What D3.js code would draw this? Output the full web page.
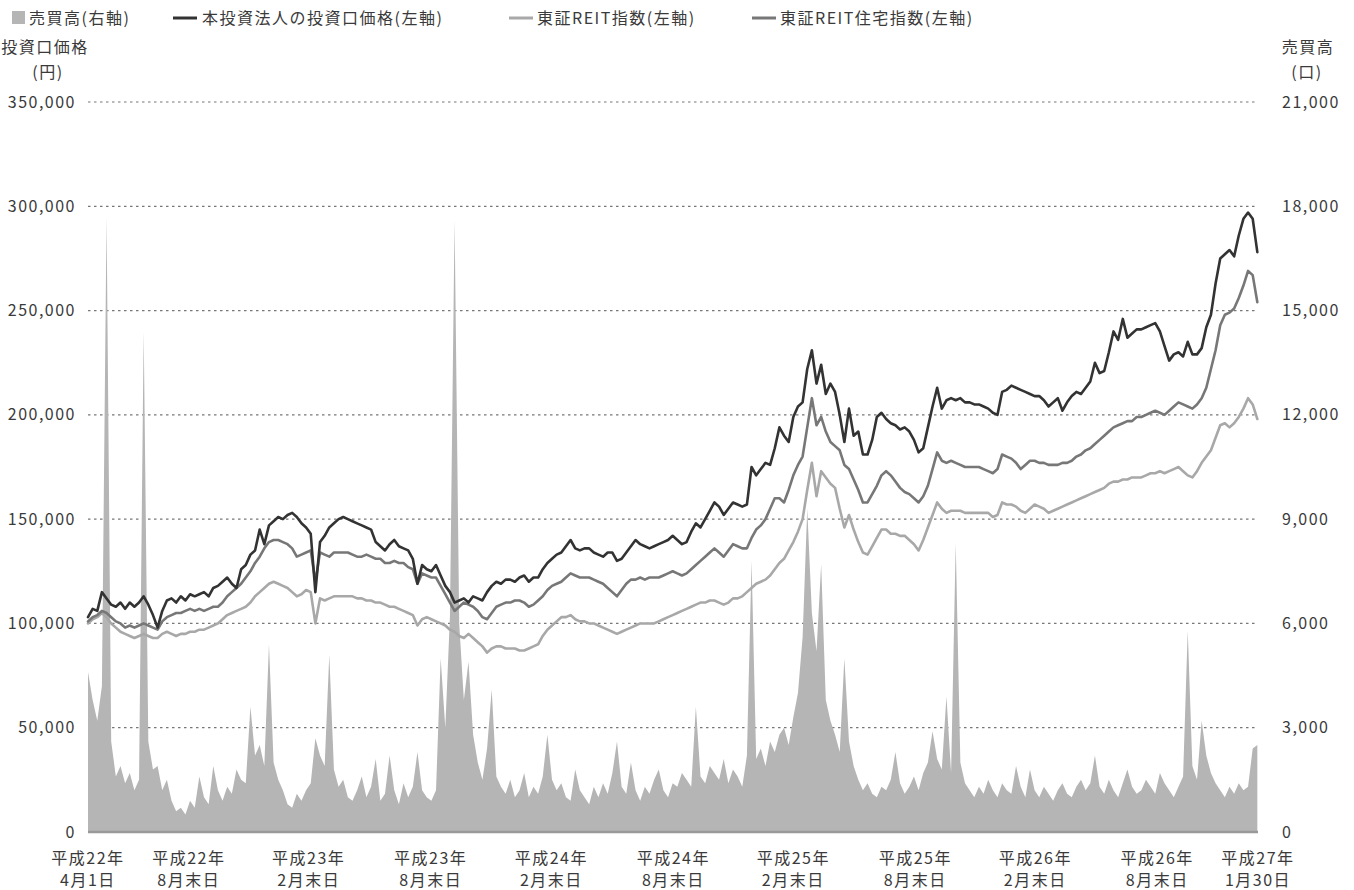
<!DOCTYPE html>
<html><head><meta charset="utf-8">
<script src="https://cdn.jsdelivr.net/npm/d3@7"></script>
<style>
body{margin:0;background:#fff}
text{font-family:"Noto Sans CJK JP","Noto Sans",sans-serif;fill:#3a3a3a;letter-spacing:1.5px}
</style>
</head><body>
<svg id="chart" width="1354" height="890"></svg>
<script>
// ---- data (weekly samples starting 2010-04-01) ----
const startDate = new Date(2010, 3, 1);
const endDate = new Date(2015, 0, 30);
const stepDays = 7;

// 本投資法人の投資口価格 (千円)
const price = [
103,107,106,115,112,109,108,110,107,110,
108,110,113,109,104,98,106,111,112,110,
113,111,114,113,114,115,113,117,118,120,
122,119,117,126,128,133,135,145,138,147,
149,151,150,152,153,151,148,146,143,115,
139,142,146,148,150,151,150,149,148,147,
146,145,139,137,135,138,140,137,136,135,
131,119,128,126,125,128,123,118,115,110,
111,112,110,113,112,111,115,118,120,119,
121,121,120,122,123,120,122,122,126,129,
131,133,134,137,140,136,135,136,136,134,
133,132,134,134,130,131,134,137,140,138,
137,136,137,138,139,140,142,140,138,139,
144,148,146,150,154,158,156,152,155,158,
157,156,157,175,171,174,177,176,184,194,
190,187,199,204,206,222,231,215,224,210,
215,211,200,187,203,190,192,181,181,188,
199,201,198,196,195,193,194,192,188,182,
184,194,204,213,203,207,208,207,208,206,
206,205,205,204,203,201,200,211,212,214,
213,212,211,210,209,209,207,204,206,208,
202,206,209,211,210,213,216,225,220,221,
230,240,236,246,237,239,241,241,242,243,
244,240,233,226,229,230,228,235,229,229,
232,242,248,263,275,277,279,276,286,294,
297,294,278];

// 東証REIT住宅指数 (千円換算)
const housing = [
101,103,104,106,105,103,101,100,98,99,
98,99,100,99,98,97,101,103,104,105,
105,106,107,106,107,106,107,108,108,110,
113,115,117,119,122,125,129,132,136,139,
140,140,139,138,136,132,133,134,135,120,
134,133,132,134,134,134,134,133,132,132,
133,132,131,131,129,129,130,129,129,127,
126,119,124,123,122,122,118,114,110,106,
108,110,109,108,106,103,102,105,108,109,
110,110,111,111,110,108,109,111,113,116,
118,119,120,122,124,123,122,122,122,121,
120,119,117,115,113,116,119,121,121,122,
121,122,122,122,123,124,125,124,123,124,
126,128,130,132,134,136,134,132,135,138,
137,136,136,141,145,147,150,155,160,160,
158,164,171,176,180,194,208,195,199,192,
187,185,183,176,174,169,164,158,158,162,
166,171,173,171,168,165,163,162,160,158,
161,166,174,182,178,177,178,177,176,175,
175,175,175,174,173,172,174,181,180,179,
177,174,176,178,178,177,177,176,176,176,
177,177,178,180,181,183,184,186,188,190,
192,194,195,196,197,197,199,199,200,201,
202,201,200,202,204,206,205,204,203,205,
208,213,222,231,243,248,249,251,256,262,
269,267,254];

// 東証REIT指数 (千円換算)
const reit = [
100,102,103,105,103,100,98,96,95,94,
93,94,95,94,93,93,95,96,95,94,
95,95,96,96,97,97,98,99,100,102,
104,105,106,107,108,110,113,115,117,119,
120,119,118,117,115,113,114,116,115,100,
112,111,112,113,113,113,113,113,112,112,
111,111,110,110,109,108,108,107,106,105,
104,99,102,103,102,101,100,99,97,96,
94,93,95,93,91,89,86,88,89,89,
88,88,88,87,87,88,89,90,94,97,
99,101,103,103,104,102,101,101,100,100,
99,98,97,96,95,96,97,98,99,100,
100,100,100,101,102,103,104,105,106,107,
108,109,110,110,111,111,110,109,110,112,
112,113,115,117,119,120,121,123,126,129,
131,135,139,144,150,164,177,161,173,170,
167,165,155,146,152,145,139,134,133,137,
141,145,145,143,143,142,142,140,138,135,
140,146,152,158,155,153,154,154,154,153,
153,153,153,153,153,151,152,158,157,157,
156,154,153,155,157,156,155,153,154,155,
156,157,158,159,160,161,162,163,164,165,
167,168,168,169,169,170,170,170,171,172,
172,173,172,173,174,175,173,171,170,173,
177,180,183,189,195,196,194,196,199,203,
208,205,198];

// 売買高 (口)
const volume = [
4600,3800,3200,4200,17700,2600,1600,1900,1400,1700,
1200,1500,14400,2600,1800,1900,1200,1500,900,600,
700,500,900,700,1600,1000,800,1900,1200,900,
1300,1100,1800,1500,1400,3600,2200,2500,1900,5400,
2000,1500,1200,800,700,1100,900,1200,1400,2700,
2200,1900,5100,1800,1300,1500,1000,900,1200,1600,
1000,1300,2100,900,1100,2200,1200,800,1400,1000,
1300,2300,1200,1000,900,1200,5000,3000,6200,17600,
6000,3800,4900,2800,2000,1500,2400,4100,1600,1300,
1100,1500,1000,1200,1700,1000,1300,1100,1600,2800,
1500,1200,1400,1000,900,1800,1200,1000,800,1300,
1000,1400,1100,1700,2600,1300,1100,2000,1200,900,
1300,1100,1500,1800,1200,1000,1400,1300,1700,1500,
1300,3600,1600,1400,1900,1700,1500,2100,1400,1800,
1600,1300,2200,7800,2100,2400,1900,2600,2300,2800,
3000,2500,3300,4000,5600,9300,6300,5200,7700,3800,
3200,2800,2300,5000,2600,1900,1500,1200,1400,1100,
1000,1300,1200,1500,2300,1400,1100,1300,1600,1200,
1700,2000,2900,2100,1800,3900,1700,8300,2000,1400,
1200,1000,1300,1100,1500,1200,1000,1400,1200,1100,
1900,1300,1000,1800,1200,1000,1300,1100,900,1200,
1400,1100,1000,1300,1500,1200,1400,2200,1300,1100,
1500,1200,1000,1400,1800,1300,1100,1200,1500,1300,
1100,1700,1400,1200,1000,1300,1600,5800,1900,1500,
3200,2200,1700,1400,1200,1000,1300,1100,1400,1200,
1300,2400,2500];

// axis ticks
const leftTicks = [0, 50, 100, 150, 200, 250, 300, 350];      // 千円
const rightTicks = [0, 3000, 6000, 9000, 12000, 15000, 18000, 21000];
const xTickDates = ["2010-04-01","2010-08-31","2011-02-28","2011-08-31","2012-02-29",
  "2012-08-31","2013-02-28","2013-08-31","2014-02-28","2014-08-31","2015-01-30"];
const xTickLine1 = ["平成22年","平成22年","平成23年","平成23年","平成24年","平成24年",
  "平成25年","平成25年","平成26年","平成26年","平成27年"];
const xTickLine2 = ["4月1日","8月末日","2月末日","8月末日","2月末日","8月末日",
  "2月末日","8月末日","2月末日","8月末日","1月30日"];

const legendLabels = ["売買高(右軸)","本投資法人の投資口価格(左軸)","東証REIT指数(左軸)","東証REIT住宅指数(左軸)"];

// ---- drawing ----
const svg = d3.select("#chart");
const X0 = 88, X1 = 1258, Y0 = 832, Y1 = 102;
const colors = {vol:"#b5b5b5", price:"#333333", reit:"#a8a8a8", housing:"#777777"};

const dates = price.map((_, i) => d3.timeDay.offset(startDate, i * stepDays));
const x = d3.scaleTime().domain([startDate, endDate]).range([X0, X1]);
const yL = d3.scaleLinear().domain([0, 350]).range([Y0, Y1]);
const yR = d3.scaleLinear().domain([0, 21000]).range([Y0, Y1]);

// gridlines
svg.append("g").selectAll("line").data(leftTicks.filter(d => d > 0)).join("line")
  .attr("x1", X0).attr("x2", X1)
  .attr("y1", d => yL(d)).attr("y2", d => yL(d))
  .attr("stroke", "#777").attr("stroke-width", 1.2).attr("stroke-dasharray", "2.5,3.5");

// volume area
const area = d3.area().x((d, i) => x(dates[i])).y0(yR(0)).y1(d => yR(d));
svg.append("path").datum(volume).attr("d", area).attr("fill", colors.vol);

// baseline
svg.append("line").attr("x1", X0).attr("x2", X1).attr("y1", Y0).attr("y2", Y0)
  .attr("stroke", "#999").attr("stroke-width", 2.5);

// lines
const line = d3.line().x((d, i) => x(dates[i])).y(d => yL(d));
[["reit", reit], ["housing", housing], ["price", price]].forEach(([k, arr]) => {
  svg.append("path").datum(arr).attr("d", line).attr("fill", "none")
    .attr("stroke", colors[k]).attr("stroke-width", 2.6)
    .attr("stroke-linejoin", "round").attr("stroke-linecap", "round");
});

// left axis
const fmt = d3.format(",");
const axL = svg.append("g").attr("transform", `translate(${X0},0)`)
  .call(d3.axisLeft(yL).tickValues(leftTicks).tickSize(0).tickPadding(12)
    .tickFormat(d => fmt(d * 1000)));
axL.select(".domain").remove();
axL.selectAll("text").attr("font-size", 16).attr("font-family", null).attr("fill", "#3a3a3a");

// right axis
const axR = svg.append("g").attr("transform", `translate(${X1},0)`)
  .call(d3.axisRight(yR).tickValues(rightTicks).tickSize(0).tickPadding(24).tickFormat(fmt));
axR.select(".domain").remove();
axR.selectAll("text").attr("font-size", 16).attr("font-family", null).attr("fill", "#3a3a3a");

// axis titles
svg.append("text").attr("x", 45).attr("y", 53).attr("text-anchor", "middle").attr("font-size", 16).text("投資口価格");
svg.append("text").attr("x", 48).attr("y", 78).attr("text-anchor", "middle").attr("font-size", 16).text("(円)");
svg.append("text").attr("x", 1308).attr("y", 53).attr("text-anchor", "middle").attr("font-size", 16).text("売買高");
svg.append("text").attr("x", 1307).attr("y", 78).attr("text-anchor", "middle").attr("font-size", 16).text("(口)");

// x labels
const parse = d3.timeParse("%Y-%m-%d");
const xl = svg.append("g");
xTickDates.forEach((ds, i) => {
  const px = x(parse(ds));
  xl.append("text").attr("x", px).attr("y", 864).attr("text-anchor", "middle").attr("font-size", 16).text(xTickLine1[i]);
  xl.append("text").attr("x", px).attr("y", 886).attr("text-anchor", "middle").attr("font-size", 16).text(xTickLine2[i]);
});

// legend
const lg = svg.append("g");
lg.append("rect").attr("x", 12).attr("y", 11).attr("width", 13).attr("height", 13).attr("fill", colors.vol);
lg.append("text").attr("x", 29).attr("y", 24).attr("font-size", 16).text(legendLabels[0]);
const legLines = [[173, 202, colors.price], [509, 537, colors.reit], [752, 780, colors.housing]];
legLines.forEach(([lx, tx, c], i) => {
  lg.append("line").attr("x1", lx).attr("x2", lx + 24).attr("y1", 18).attr("y2", 18)
    .attr("stroke", c).attr("stroke-width", 3);
  lg.append("text").attr("x", tx).attr("y", 24).attr("font-size", 16).text(legendLabels[i + 1]);
});
</script>
</body></html>
